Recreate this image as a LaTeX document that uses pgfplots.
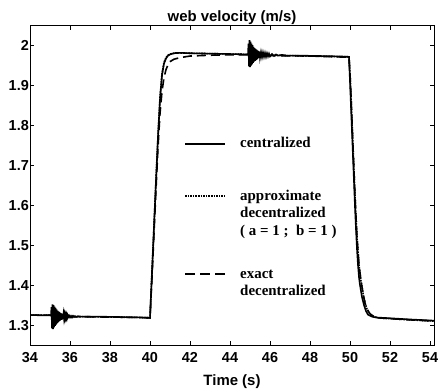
\documentclass[border=0pt]{standalone}
\usepackage{pgfplots}
\pgfplotsset{compat=1.18}
\usepackage{fontspec}
\setmainfont{Liberation Sans}
\newfontfamily\timesfont{Liberation Serif}
\begin{document}
\begin{tikzpicture}
\begin{axis}[
  name=ax,
  scale only axis,
  width=404bp, height=319.3bp,
  xmin=34, xmax=54.2, ymin=1.25, ymax=2.05,
  xtick={34,36,38,40,42,44,46,48,50,52,54},
  xticklabels={34,36,38,40,42,44,46,48,50,52,54},
  ytick={1.3,1.4,1.5,1.6,1.7,1.8,1.9,2},
  yticklabels={1.3,1.4,1.5,1.6,1.7,1.8,1.9,2},
  tick align=inside,
  xtick pos=both, ytick pos=both,
  major tick length=4bp,
  tick style={black, line width=0.7bp},
  axis line style={black, line width=0.9bp},
  ticklabel style={font=\bfseries\fontsize{14.5}{16}\selectfont},
  yticklabel style={inner xsep=1bp},
  xticklabel style={inner ysep=2bp, yshift=-5bp},
  title={web velocity (m/s)},
  title style={font=\bfseries\fontsize{15}{17}\selectfont, yshift=-8bp},
  xlabel={Time (s)},
  xlabel style={font=\bfseries\fontsize{15}{17}\selectfont, yshift=-7bp},
  every axis plot/.append style={black, line width=1.6bp},
]
\addplot[solid] coordinates {
(34,1.325)(35.05,1.324)
(35.075,1.345)(35.10,1.292)(35.125,1.352)(35.15,1.290)(35.175,1.350)(35.20,1.294)
(35.225,1.346)(35.25,1.298)(35.275,1.343)(35.30,1.301)(35.325,1.339)(35.35,1.304)
(35.375,1.336)(35.40,1.307)(35.425,1.334)(35.45,1.309)(35.475,1.332)(35.50,1.311)
(35.525,1.330)(35.55,1.313)(35.575,1.329)(35.60,1.314)(35.625,1.328)(35.65,1.315)
(35.675,1.327)(35.70,1.316)(35.725,1.326)(35.75,1.317)(35.775,1.325)(35.80,1.318)
(35.825,1.325)(35.85,1.318)(35.875,1.324)(35.90,1.319)(35.95,1.324)(36.00,1.319)
(36.05,1.323)(36.10,1.319)(36.15,1.323)(36.20,1.320)(36.25,1.322)(36.30,1.320)
(36.40,1.322)(36.50,1.321)(37.5,1.321)(38.5,1.320)(39.5,1.319)(40,1.318)
(40.1,1.43)(40.2,1.545)(40.3,1.66)(40.4,1.77)(40.5,1.865)(40.6,1.925)(40.7,1.955)
(40.8,1.968)(40.9,1.975)(41.0,1.978)(41.2,1.981)(41.5,1.982)(42,1.981)(43,1.980)
(44,1.979)(44.9,1.978)
(44.925,2.005)(44.95,1.948)(44.975,2.014)(45.00,1.946)(45.025,2.010)(45.05,1.950)
(45.075,2.005)(45.10,1.953)(45.125,2.001)(45.15,1.957)(45.175,1.997)(45.20,1.960)
(45.225,1.994)(45.25,1.962)(45.275,1.992)(45.30,1.964)(45.325,1.990)(45.35,1.966)
(45.375,1.988)(45.40,1.968)(45.425,1.986)(45.45,1.969)(45.475,1.985)(45.50,1.970)
(45.55,1.984)(45.60,1.971)(45.65,1.983)(45.70,1.972)(45.75,1.982)(45.80,1.972)
(45.85,1.981)(45.90,1.973)(45.95,1.980)(46.00,1.973)(46.10,1.979)(46.20,1.974)
(46.30,1.978)(46.40,1.975)(46.60,1.977)(46.80,1.975)(47.5,1.975)(48.5,1.974)
(49.5,1.973)(49.95,1.972)
(50.0,1.91)(50.1,1.785)(50.2,1.66)(50.25,1.596)(50.3,1.54)(50.35,1.49)(50.4,1.45)
(50.45,1.42)(50.5,1.40)(50.6,1.37)(50.7,1.35)(50.8,1.335)(50.9,1.326)(51.1,1.321)
(51.3,1.319)(52,1.317)(53,1.314)(54.2,1.311)
};
\addplot[densely dotted] coordinates {
(34,1.325)(35,1.325)(35.5,1.322)(36.5,1.321)(38,1.320)(39.5,1.319)(40,1.318)
(40.1,1.435)(40.2,1.55)(40.3,1.665)(40.4,1.775)(40.5,1.87)(40.6,1.93)(40.7,1.958)
(40.8,1.97)(40.9,1.976)(41.0,1.979)(41.3,1.982)(42,1.981)(44,1.979)(45,1.978)
(46,1.976)(48,1.974)(49.95,1.972)
(50.02,1.91)(50.12,1.785)(50.22,1.66)(50.28,1.59)(50.35,1.52)(50.45,1.45)(50.55,1.41)
(50.65,1.38)(50.75,1.355)(50.85,1.34)(51.0,1.328)(51.2,1.321)(51.4,1.318)(52,1.316)
(53,1.313)(54.2,1.310)
};
\addplot[dash pattern=on 9bp off 5bp] coordinates {
(34,1.325)(35,1.325)(35.5,1.322)(36.5,1.321)(38,1.320)(39.5,1.319)(40,1.318)
(40.1,1.42)(40.2,1.53)(40.3,1.64)(40.4,1.745)(40.5,1.83)(40.6,1.885)(40.7,1.92)
(40.8,1.94)(40.9,1.952)(41.0,1.96)(41.2,1.966)(41.5,1.970)(42,1.974)(43,1.976)
(44,1.977)(45,1.977)(46,1.975)(48,1.974)(49.95,1.971)
(50.02,1.91)(50.12,1.785)(50.22,1.66)(50.28,1.59)(50.35,1.52)(50.45,1.45)(50.55,1.41)
(50.65,1.38)(50.75,1.355)(50.85,1.34)(51.0,1.328)(51.2,1.321)(51.4,1.318)(52,1.316)
(53,1.313)(54.2,1.310)
};
\end{axis}
% legend (drawn beside the axis box, positions relative to its top-left corner)
\begin{scope}[shift={(ax.north west)}, every node/.style={anchor=base west, inner sep=0pt,
    font=\timesfont\bfseries\fontsize{15}{18}\selectfont}]
  \draw[black, line width=1.6bp] (155bp,-118.3bp) -- (195bp,-118.3bp);
  \node at (210bp,-122.3bp) {centralized};
  \draw[black, line width=1.6bp, densely dotted] (155bp,-170.3bp) -- (195bp,-170.3bp);
  \node at (210bp,-174.3bp) {\begin{tabular}[t]{@{}l@{}}approximate\\decentralized\\( a = 1 ; \ b = 1 )\end{tabular}};
  \draw[black, line width=1.6bp, dash pattern=on 10bp off 5bp] (155bp,-248.3bp) -- (195bp,-248.3bp);
  \node at (210bp,-252.3bp) {\begin{tabular}[t]{@{}l@{}}exact\\decentralized\end{tabular}};
\end{scope}
\pgfresetboundingbox
\path[use as bounding box] ([xshift=-30bp,yshift=-47bp]ax.south west) rectangle ([xshift=6bp,yshift=25.7bp]ax.north east);
\end{tikzpicture}
\end{document}
